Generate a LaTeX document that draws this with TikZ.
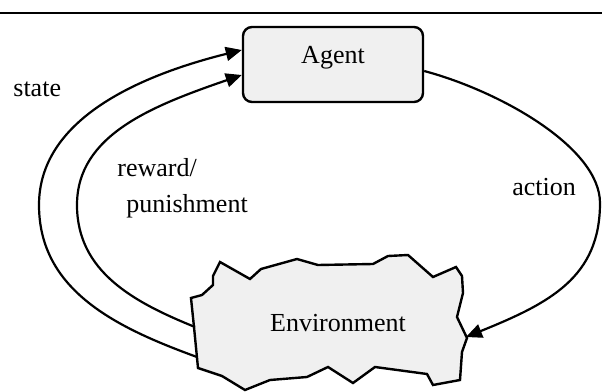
\documentclass[tikz,border=0pt]{standalone}
\usepackage{fontspec}
\setmainfont{Liberation Serif}
\usepackage{xcolor}
\definecolor{boxgray}{RGB}{240, 240, 240}
\usetikzlibrary{positioning, arrows.meta}
\tikzset{
    agentbox/.style={
        draw=black,
        fill=boxgray,
        line width=1.2pt,
        rounded corners=4.5pt,
        minimum width=90pt,
        inner sep=0pt,
        text height=18pt,
        text depth=19.5pt,
        anchor=base
    },
    envshape/.style={
        draw=black,
        fill=boxgray,
        line width=1.2pt,
        line join=miter
    },
    looptext/.style={
        inner sep=0pt,
        align=left
    },
    arrow/.style={
        -{Triangle[length=8pt,width=7pt]},
        line width=1.1pt
    }
}

\begin{document}
\begin{tikzpicture}[x=0.5pt, y=-0.5pt, font=\fontsize{13}{17.75}\selectfont]
\useasboundingbox (0,0) rectangle (602,392);

% ---------------------------------------------------------
% Frame and nodes
% ---------------------------------------------------------

% rule at the top
\draw[line width=1pt] (0,12.5) -- (602,12.5);

% Top: agent
\node[agentbox] (agent) at (333,63) {Agent};

% Bottom: environment (jagged outline)
\draw[envshape] (220,262) -- (250,279) -- (261,269) -- (297,259) -- (318,265)
    -- (373,264) -- (388,256) -- (408,255) -- (433,277) -- (456,267)
    -- (462,276) -- (463,293) -- (457,317) -- (467,338) -- (462,352)
    -- (460,380) -- (433,385) -- (427,374) -- (375,367) -- (353,383)
    -- (328,367) -- (307,377) -- (270,380) -- (245,390) -- (222,376)
    -- (198,368) -- (194,327) -- (191,298) -- (202,295) -- (213,285)
    -- (213,276) -- cycle;
\node[anchor=base, inner sep=0pt] (env) at (338,331) {Environment};

% points on the outline
\coordinate (env-state) at (197,357);
\coordinate (env-reward) at (195,327);
\coordinate (env-action) at (466,337);

% ---------------------------------------------------------
% Arrows
% ---------------------------------------------------------

% environment -> agent (outer loop)
\draw[arrow] (env-state) to[out=160, in=-90] (39,205)
    to[out=90, in=194, out looseness=0.84, in looseness=1.11] ([yshift=7.25pt]agent.west);

% environment -> agent (inner loop)
\draw[arrow] (env-reward) to[out=158, in=-90] (77,205)
    to[out=90, in=199, out looseness=0.85, in looseness=1.16] ([yshift=-5.25pt]agent.west);

% agent -> environment
\draw[arrow] ([yshift=-3.25pt]agent.east)
    to[out=-15, in=90, out looseness=0.93, in looseness=0.64] (600,203)
    to[out=-90, in=22, in looseness=1.22] (env-action);

% Labels (base = last line)
\node[looptext, anchor=base west] (statetext) at (13,96) {state};
\node[looptext, anchor=base west] (rewardtext) at (117,212) {reward/\\\hspace{4.5pt}punishment};
\node[looptext, anchor=base west] (actiontext) at (512,195) {action};

\end{tikzpicture}
\end{document}
